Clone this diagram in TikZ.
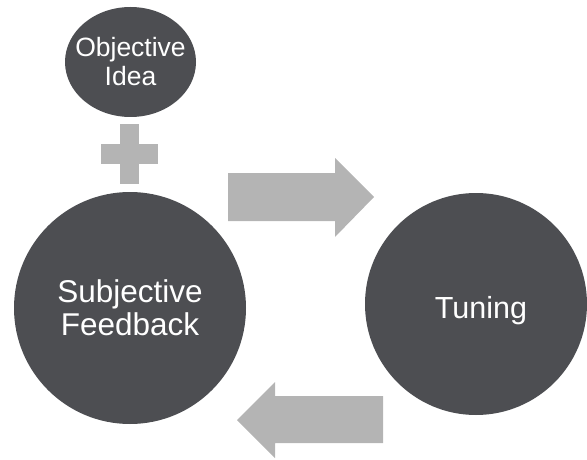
\documentclass[tikz,border=0pt]{standalone}
\usepackage{fontspec}
\setmainfont{Liberation Sans}
\begin{document}
\definecolor{discfill}{HTML}{4D4E52}
\definecolor{shapegray}{HTML}{B4B4B4}
\begin{tikzpicture}[x=1pt,y=-1pt,
  disc/.style={fill=discfill,draw=none,text=white,align=center,inner sep=0pt},
  flatshape/.style={fill=shapegray,draw=none}]
\useasboundingbox (0,0) rectangle (587,460);
% objective idea (slightly oval)
\fill[discfill] (130.5,62) ellipse [x radius=65.5, y radius=55];
\node[text=white,align=center,inner sep=0pt,
  font=\fontsize{26.5}{29}\selectfont] (idea) at (130.5,62) {Objective\\Idea};
% plus sign
\fill[flatshape] (120,124) rectangle (139,184);
\fill[flatshape] (100.5,144) rectangle (158,164);
% large discs
\node[disc,circle,minimum size=232pt,
  font=\fontsize{31.5}{33}\selectfont] (feedback) at (130,308) {Subjective\\Feedback};
\node[disc,circle,minimum size=222pt] (tuning) at (476,304) {};
\node[text=white,inner sep=0pt,anchor=base,font=\fontsize{30.5}{33}\selectfont]
  (tuninglabel) at (481,318) {Tuning};
% block arrows
\fill[flatshape] (228,173) -- (335,173) -- (335,158) -- (374,197) -- (335,237)
  -- (335,221) -- (228,221) -- cycle;
\fill[flatshape] (383,396) -- (275,396) -- (275,382) -- (237,420) -- (275,458)
  -- (275,443) -- (383,443) -- cycle;
\end{tikzpicture}
\end{document}
